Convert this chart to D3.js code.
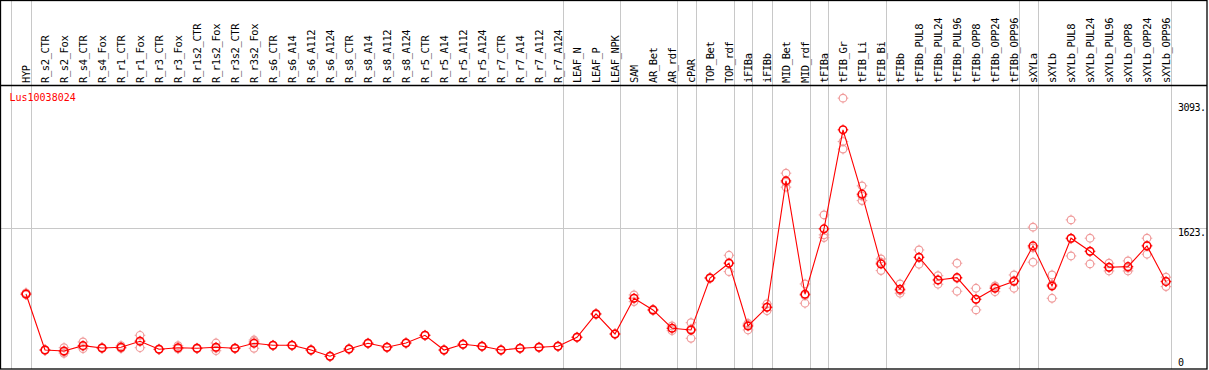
<!DOCTYPE html>
<html lang="en">
<head>
<meta charset="utf-8">
<script src="https://d3js.org/d3.v7.min.js"></script>
<style>
  body { margin: 0; background: #fff; }
  text { font-family: "DejaVu Sans Mono", monospace; }
</style>
</head>
<body>
<script>

    // column names (tissues / samples)
    const samples = ["HYP", "R_s2_CTR", "R_s2_Fox", "R_s4_CTR", "R_s4_Fox", "R_r1_CTR", "R_r1_Fox",
        "R_r3_CTR", "R_r3_Fox", "R_r1s2_CTR", "R_r1s2_Fox", "R_r3s2_CTR", "R_r3s2_Fox",
        "R_s6_CTR", "R_s6_A14", "R_s6_A112", "R_s6_A124", "R_s8_CTR", "R_s8_A14", "R_s8_A112", "R_s8_A124",
        "R_r5_CTR", "R_r5_A14", "R_r5_A112", "R_r5_A124", "R_r7_CTR", "R_r7_A14", "R_r7_A112", "R_r7_A124",
        "LEAF_N", "LEAF_P", "LEAF_NPK", "SAM", "AR_Bet", "AR_rdf", "cPAR", "TOP_Bet", "TOP_rdf",
        "iFIBa", "iFIBb", "MID_Bet", "MID_rdf", "tFIBa", "tFIB_Gr", "tFIB_Li", "tFIB_Bi", "tFIBb",
        "tFIBb_PUL8", "tFIBb_PUL24", "tFIBb_PUL96", "tFIBb_OPP8", "tFIBb_OPP24", "tFIBb_OPP96",
        "sXYLa", "sXYLb", "sXYLb_PUL8", "sXYLb_PUL24", "sXYLb_PUL96", "sXYLb_OPP8", "sXYLb_OPP24", "sXYLb_OPP96"];

    // mean expression per column
    const means = [858, 204, 193, 255, 228, 236, 306, 213, 231, 224, 236, 224, 283,
        259, 259, 204, 131, 216, 283, 236, 286, 376, 204, 271, 248, 204, 224, 236, 248,
        353, 625, 391, 808, 672, 458, 438, 1045, 1217, 485, 703, 2178, 855, 1618, 2774, 2023, 1209, 913,
        1287, 1022, 1049, 797, 925, 1007, 1419, 952, 1509, 1357, 1170, 1177, 1419, 1002];

    // replicate values per column
    const replicates = [
        [850, 872, 852], [200, 208, 204], [231, 166, 182], [298, 220, 247], [224, 232, 228], [255, 224, 229],
        [376, 231, 311], [210, 216, 213], [255, 220, 218], [220, 228, 224], [286, 196, 226], [220, 228, 224],
        [321, 224, 304], [262, 256, 259], [262, 256, 259], [200, 208, 204], [128, 134, 131], [213, 219, 216],
        [280, 286, 283], [233, 239, 236], [283, 289, 286], [373, 379, 376], [201, 207, 204], [268, 274, 271],
        [245, 251, 248], [201, 207, 204], [221, 227, 224], [233, 239, 236], [245, 251, 248],
        [350, 356, 353], [620, 630, 625], [388, 394, 391], [847, 769, 808], [665, 679, 672], [485, 430, 459],
        [523, 341, 450], [1040, 1050, 1045], [1310, 1119, 1222], [516, 438, 501], [742, 663, 704],
        [2268, 2105, 2162], [975, 750, 840], [1781, 1548, 1516], [3144, 2637, 2549], [2120, 1948, 2001],
        [1267, 1131, 1229], [975, 867, 898], [1372, 1205, 1284], [1072, 972, 1022], [1217, 890, 1040],
        [925, 672, 794], [952, 885, 938], [1080, 925, 1016], [1638, 1229, 1396], [1080, 808, 968],
        [1723, 1302, 1502], [1509, 1209, 1353], [1217, 1127, 1166], [1244, 1127, 1160], [1509, 1322, 1426],
        [1054, 944, 1008]];

    // column indices after which a group separator is drawn
    const groupEnds = [-1, 0, 28, 31, 34, 35, 37, 38, 39, 41, 42, 45, 52, 53, 60];

    const yTicks = [0, 1623, 3093];
    const geneName = "Lus10038024";

    const width = 1209;
    const height = 370;
    const headerBottom = 85.5;
    const plotRight = 1207;
    const plotBottom = 369;

    var x = d3.scaleLinear()
                .domain([0, samples.length - 1])
                .range([26, 1166]);

    var y = d3.scaleLinear()
                .domain([0, 3093])
                .range([367.5, 102.5]);

    var svg = d3.select("body")
                .append("svg")
                .attr("width", width)
                .attr("height", height);

    // group separators
    svg.selectAll("line.sep")
        .data(groupEnds)
        .enter()
        .append("line")
        .attr("class", "sep")
        .attr("x1", d => Math.round(x(d) + 4.5) + 0.5)
        .attr("x2", d => Math.round(x(d) + 4.5) + 0.5)
        .attr("y1", 0)
        .attr("y2", plotBottom)
        .attr("stroke", "#c8c8c8")
        .attr("stroke-width", 1);

    // horizontal grid line at the middle tick
    svg.append("line")
        .attr("x1", 0)
        .attr("x2", plotRight)
        .attr("y1", Math.round(y(yTicks[1])) + 0.5)
        .attr("y2", Math.round(y(yTicks[1])) + 0.5)
        .attr("stroke", "#c8c8c8");

    // frame and header separator
    svg.append("rect")
        .attr("x", 0.5)
        .attr("y", 0.5)
        .attr("width", plotRight - 0.5)
        .attr("height", plotBottom - 0.5)
        .attr("fill", "none")
        .attr("stroke", "#000")
        .attr("stroke-width", 1.3);

    svg.append("line")
        .attr("x1", 0)
        .attr("x2", plotRight)
        .attr("y1", headerBottom)
        .attr("y2", headerBottom)
        .attr("stroke", "#000")
        .attr("stroke-width", 1.3);

    // rotated column labels
    svg.selectAll("text.col")
        .data(samples)
        .enter()
        .append("text")
        .attr("class", "col")
        .attr("transform", (d, i) => "translate(" + (x(i) + 4) + ",83) rotate(-90)")
        .style("font-size", "10.5px")
        .style("letter-spacing", "-0.4px")
        .attr("fill", "#000")
        .text(d => d);

    // right-side value labels
    svg.selectAll("text.tick")
        .data(yTicks)
        .enter()
        .append("text")
        .attr("class", "tick")
        .attr("x", 1178)
        .attr("y", d => d === 0 ? 365.5 : y(d) + 8)
        .style("font-size", "10px")
        .style("letter-spacing", "-0.5px")
        .attr("fill", "#000")
        .text(d => d === 0 ? "0" : d + ".");

    // gene name
    svg.append("text")
        .attr("x", 9.5)
        .attr("y", 101)
        .style("font-size", "10px")
        .attr("fill", "#ff0000")
        .text(geneName);

    // small circle with four ticks, like the original markers
    function marker(g, cx, cy, color, sw) {
        g.append("circle")
            .attr("cx", cx)
            .attr("cy", cy)
            .attr("r", 3.8)
            .attr("fill", "none")
            .attr("stroke", color)
            .attr("stroke-width", sw);
        g.append("path")
            .attr("d", "M" + cx + "," + (cy - 3.8) + "v-1.5M" + cx + "," + (cy + 3.8) + "v1.5" +
                       "M" + (cx - 3.8) + "," + cy + "h-1.5M" + (cx + 3.8) + "," + cy + "h1.5")
            .attr("stroke", color)
            .attr("stroke-width", 1);
    }

    // replicates
    var reps = svg.append("g");
    replicates.forEach(function(r, i) {
        r.forEach(function(v) {
            marker(reps, x(i), y(v), "#f09c9c", 1.2);
        });
    });

    // mean line
    svg.append("path")
        .datum(means)
        .attr("d", d3.line().x((d, i) => x(i)).y(d => y(d)))
        .attr("fill", "none")
        .attr("stroke", "#ff0000")
        .attr("stroke-width", 1.1);

    // mean markers
    var mk = svg.append("g");
    means.forEach(function(v, i) {
        marker(mk, x(i), y(v), "#ff0000", 1.5);
    });

</script>
</body>
</html>
